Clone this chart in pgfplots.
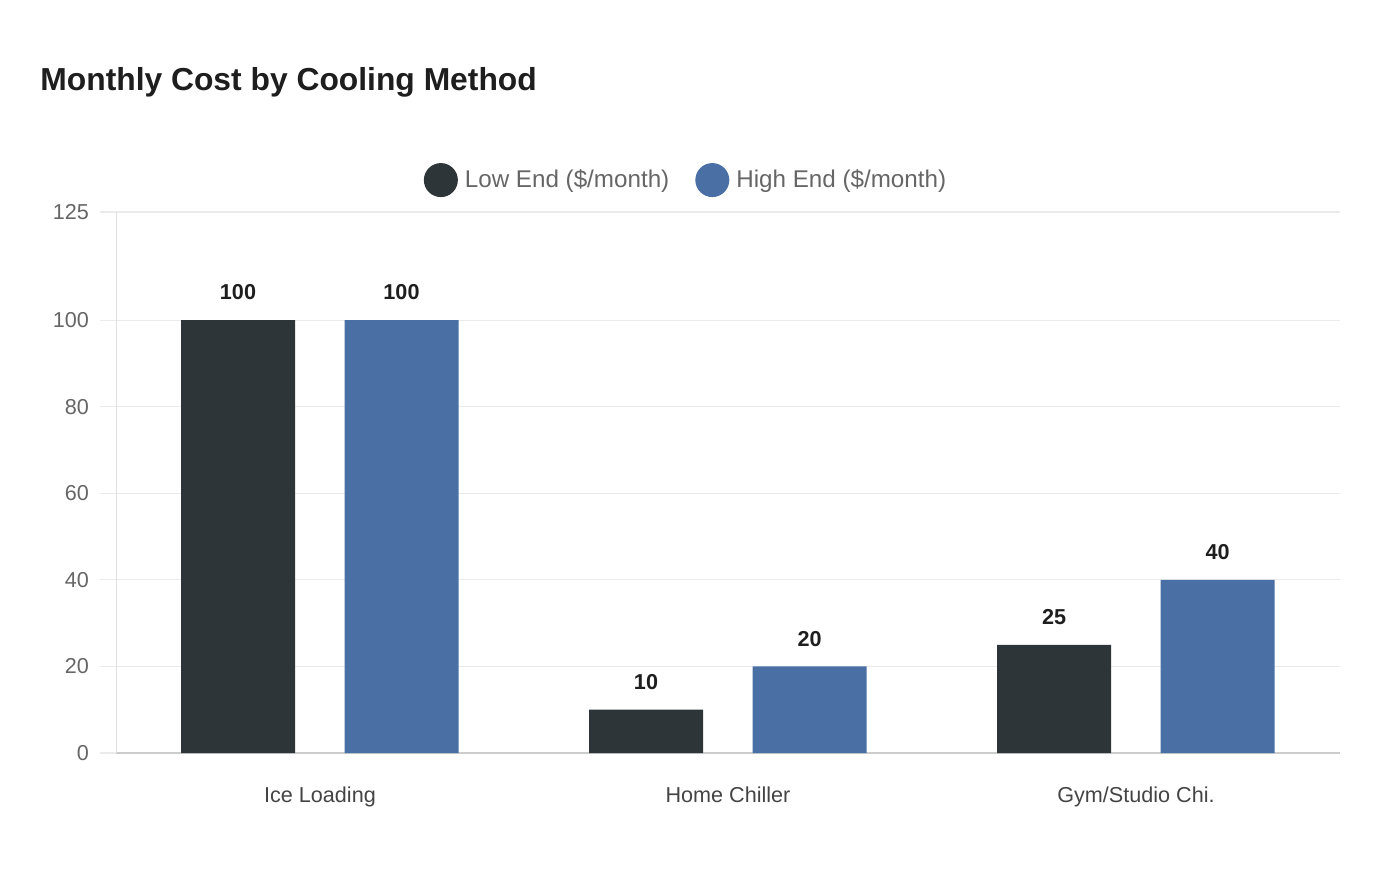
\documentclass[border=0pt]{standalone}
\usepackage{pgfplots}
\pgfplotsset{compat=1.18}
\usepackage{fontspec}
\setmainfont{Liberation Sans}
\definecolor{lowc}{HTML}{2E3538}
\definecolor{highc}{HTML}{4A6FA5}
\definecolor{gridc}{HTML}{EBEBEB}
\definecolor{tickc}{HTML}{666666}
\definecolor{catc}{HTML}{444444}
\definecolor{titlec}{HTML}{1E1E1E}
\begin{document}
\begin{tikzpicture}
\path[use as bounding box] (0,0) rectangle (700pt,440pt);
\node[anchor=west, font=\bfseries\fontsize{15.9}{18}\selectfont, text=titlec, inner sep=0pt] at (20pt,399pt) {Monthly Cost by Cooling Method};
\begin{axis}[
    at={(58pt,63.5pt)}, anchor=south west,
    scale only axis,
    width=612pt, height=270.5pt,
    xmin=-0.5, xmax=2.5,
    ymin=0, ymax=125,
    xtick={0,1,2},
    xticklabels={Ice Loading, Home Chiller, Gym/Studio Chi.},
    ytick={0,20,40,60,80,100,125},
    axis x line*=bottom, axis y line*=left,
    x axis line style={draw=black!20, line width=0.8pt, -},
    y axis line style={draw=black!12, line width=0.5pt, -},
    ymajorgrids, grid style={draw=gridc, line width=0.6pt},
    major x tick style={draw=none},
    major y tick style={draw=gridc, line width=0.6pt},
    tick align=outside, major tick length=8pt,
    /pgf/number format/assume math mode=true,
    yticklabel style={font=\fontsize{10.8}{13}\selectfont, text=tickc, xshift=-2pt},
    xticklabel style={font=\fontsize{10.8}{13}\selectfont, text=catc, yshift=-5.5pt},
    ybar, bar width=57pt,
    nodes near coords,
    every node near coord/.append style={font=\bfseries\fontsize{10.8}{13}\selectfont, text=titlec, yshift=6.5pt},
    legend columns=2,
    legend style={draw=none, fill=none, at={(0.4665,1.059)}, anchor=center,
        font=\fontsize{12.1}{14}\selectfont, text=tickc,
        /tikz/every even column/.append style={column sep=11pt}},
]
\addplot[fill=lowc, draw=none, bar shift=-41pt,
    legend image code/.code={\fill[lowc] (8.5pt,0pt) circle (8.5pt); \path (18.5pt,0pt);}]
    coordinates {(0,100) (1,10) (2,25)};
\addlegendentry{Low End (\$/month)}
\addplot[fill=highc, draw=none, bar shift=40.75pt,
    legend image code/.code={\fill[highc] (8.5pt,0pt) circle (8.5pt); \path (18.5pt,0pt);}]
    coordinates {(0,100) (1,20) (2,40)};
\addlegendentry{High End (\$/month)}
\end{axis}
\end{tikzpicture}
\end{document}
